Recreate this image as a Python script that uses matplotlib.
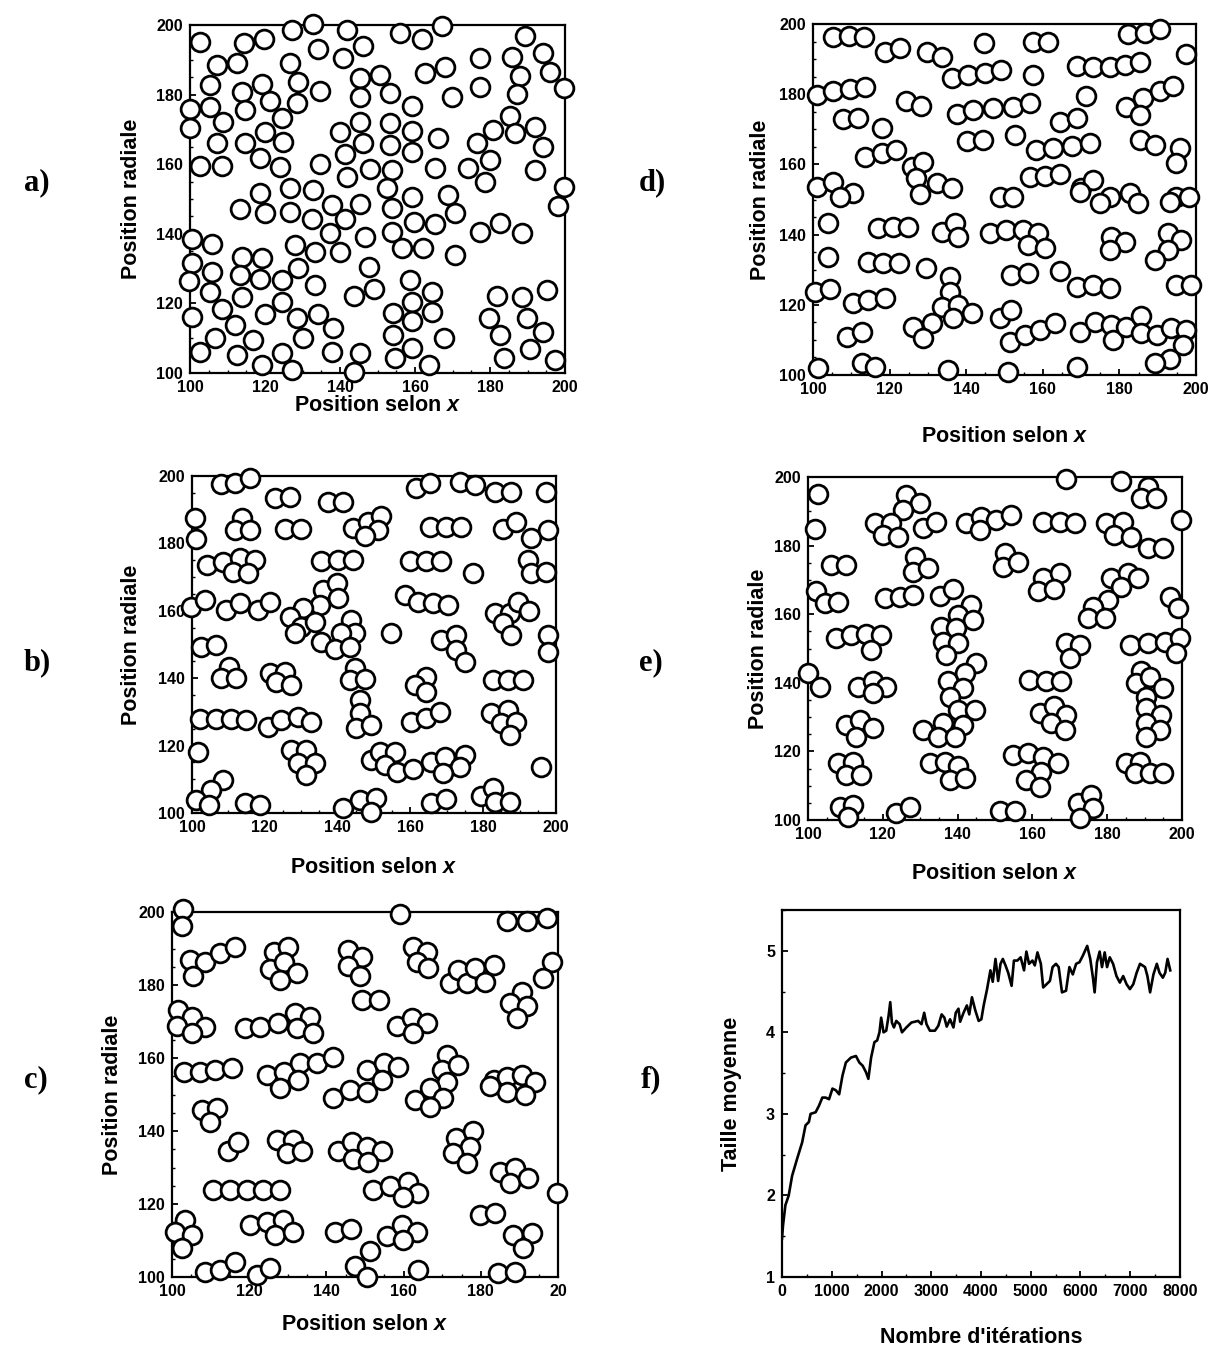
import matplotlib
matplotlib.use("Agg")
import matplotlib.pyplot as plt
from matplotlib.ticker import MultipleLocator
import numpy as np

plt.rcParams['font.family'] = ['Liberation Sans', 'DejaVu Sans']
plt.rcParams['mathtext.fontset'] = 'custom'
plt.rcParams['mathtext.it'] = 'Liberation Sans:bold:italic'
plt.rcParams['mathtext.rm'] = 'Liberation Sans:bold'

# ---------------- data ----------------
a_pts = [(102.7,195.0),(107.1,188.5),(112.4,189.2),(114.4,194.7),(119.6,196.0),(127.1,198.6),(132.9,200.2),
 (141.8,198.6),(134.2,193.1),(146.2,194.1),(140.9,190.4),(126.7,189.0),(156.0,197.6),(161.8,196.0),(167.1,199.8),
 (189.3,196.9),(194.2,192.0),(196.0,186.6),(185.8,190.9),(177.3,190.6),(168.0,188.0),(162.7,186.1),(188.0,185.4),
 (199.8,182.0),(187.1,180.1),(177.3,182.3),(169.8,179.4),(159.1,176.8),(150.7,185.6),(145.3,184.9),(153.3,180.4),
 (145.3,179.4),(134.7,181.0),(128.9,183.7),(119.1,183.0),(113.8,180.8),(105.3,182.8),(121.3,178.2),(128.4,177.5),
 (114.7,175.6),(105.3,176.5),(100.0,175.9),(100.0,170.3),(108.9,172.2),(124.4,173.2),(120.0,169.2),(107.1,166.0),
 (114.7,166.0),(124.9,166.5),(118.7,161.7),(124.0,159.3),(102.7,159.6),(108.4,159.6),(134.7,160.2),(140.0,169.3),
 (145.3,172.2),(146.2,166.2),(141.3,162.8),(141.8,156.4),(148.0,158.6),(153.3,171.7),(153.3,165.5),(159.1,169.5),
 (159.1,163.4),(153.8,158.3),(166.2,167.4),(165.3,159.0),(174.2,159.0),(176.4,166.0),(180.0,161.2),(180.9,169.8),
 (185.3,173.9),(186.7,168.9),(192.0,170.8),(194.2,165.0),(192.0,158.3),(178.7,155.0),(199.6,153.5),(152.4,153.1),
 (118.7,151.6),(126.7,153.1),(132.9,152.6),
 (159.1,150.5),(168.9,151.2),(113.3,147.0),(120.0,146.1),(126.7,146.4),(132.4,144.2),(137.8,148.3),(141.3,144.2),
 (145.3,148.6),(153.8,147.3),(159.6,143.5),(165.3,142.8),(170.7,145.9),(177.3,140.6),(182.7,143.0),(188.4,140.3),
 (198.2,148.0),(137.3,140.1),(146.7,139.0),(153.8,140.6),(156.4,135.8),(162.2,135.8),(170.7,133.9),(100.4,138.4),
 (105.8,137.1),(128.0,136.8),(133.3,134.9),(140.0,134.9),(113.8,133.4),(119.1,133.0),(100.4,131.7),(105.8,129.1),
 (128.9,130.1),(147.6,130.6),(99.6,126.3),(113.3,128.2),(118.7,126.9),(124.4,126.7),(133.3,125.3),(158.7,126.7),
 (105.3,123.4),(113.8,121.8),(124.4,120.5),(143.6,122.1),(149.1,124.1),(164.4,123.4),(159.1,120.5),(181.8,122.1),
 (188.4,121.9),(195.1,123.9),(108.4,118.3),(100.4,116.0),(120.0,117.0),(128.4,115.7),(134.2,117.0),(154.2,117.2),
 (164.4,117.6),(159.1,114.8),(179.6,115.7),(189.8,115.7),(112.0,113.8),(138.2,112.9),(194.2,111.9),(182.7,110.9),
 (106.7,110.0),(116.9,109.5),(130.2,110.0),(154.2,110.9),(167.6,110.0),(102.7,105.9),(112.4,105.2),(124.4,105.7),
 (137.8,105.9),(145.3,105.7),(159.1,107.1),(190.7,106.8),(183.8,104.2),(154.7,104.2),(197.3,103.6),(119.1,102.3),
 (127.1,100.9),(143.6,100.4),(163.6,102.3)]

d_pts = [(105.3,196.4),(109.5,196.7),(113.3,196.4),(118.8,191.9),(122.7,193.3),(129.7,192.1),(133.6,190.7),
 (144.6,194.5),(157.5,194.8),(161.4,194.8),(182.3,197.1),(186.7,197.3),(190.5,198.6),(197.5,191.4),(136.2,184.7),
 (140.5,185.5),(144.9,185.9),(149.2,186.9),(157.5,185.5),(168.8,188.1),(173.0,187.8),(177.5,187.8),(181.4,188.3),
 (185.3,189.3),(101.0,179.8),(105.3,180.9),(109.7,181.5),(113.6,182.1),(124.4,178.1),(128.1,176.7),(137.5,174.5),
 (141.8,175.5),(147.0,176.0),(152.1,176.4),(156.6,177.4),(171.4,179.6),(181.8,176.4),(186.2,179.0),(190.5,180.9),
 (194.0,182.4),(185.3,174.1),(107.9,172.9),(111.7,173.1),(117.9,170.3),(164.4,172.2),(168.8,173.1),(140.1,166.7),
 (144.4,167.0),(152.7,168.4),(158.3,164.1),(162.7,164.6),(167.5,165.1),(172.3,166.0),(185.3,167.0),(189.2,165.5),
 (195.7,164.6),(194.9,160.3),(113.6,162.2),(117.9,163.2),(121.8,164.1),(125.8,159.4),(128.7,160.8),(126.8,156.0),
 (132.3,154.6),(136.2,153.2),(156.6,156.5),(160.5,156.8),(164.4,157.2),(170.1,153.2),(173.0,155.6),(101.0,153.7),
 (105.3,155.1),(110.5,151.8),(127.9,151.5),(148.7,150.8),(152.1,150.8),(177.5,150.8),(182.7,151.8),(194.9,150.8),
 (198.3,150.8),
 (107.0,150.8),(169.7,152.2),(174.9,148.9),(184.9,148.9),(193.1,149.4),(104.0,143.2),(117.0,141.8),(120.9,142.1),
 (124.9,142.1),(133.6,140.8),(137.1,143.4),(137.9,139.2),(146.2,140.5),(150.5,141.3),(154.9,141.3),(158.8,140.4),
 (156.2,137.0),(160.5,136.1),(177.9,139.4),(181.4,138.0),(177.5,135.6),(192.7,140.4),(196.2,138.6),(192.7,135.6),
 (189.2,132.8),(104.0,133.7),(114.4,132.3),(118.3,132.0),(122.5,132.0),(129.6,130.4),(135.7,128.0),(151.8,128.5),
 (156.2,129.0),(164.4,129.7),(168.8,125.2),(173.1,125.6),(177.5,124.7),(194.9,125.6),(198.8,125.6),(100.5,123.7),
 (104.4,124.4),(110.5,120.4),(114.4,121.4),(118.8,121.8),(135.7,123.7),(133.6,119.5),(137.9,119.9),(141.4,117.6),
 (136.6,116.1),(131.0,114.7),(126.2,113.6),(128.8,110.4),(148.8,116.1),(151.8,118.5),(151.4,109.5),(155.3,111.4),
 (159.2,112.8),(163.1,114.7),(169.7,112.3),(173.6,115.2),(177.9,114.2),(178.3,110.0),(181.8,113.8),(185.7,116.8),
 (185.7,111.9),(189.7,111.4),(193.6,113.3),(197.5,112.8),(196.6,108.5),(193.1,104.7),(189.2,103.3),(108.8,110.9),
 (112.7,112.3),(101.4,101.9),(112.7,103.3),(116.2,102.4),(135.3,101.4),(150.9,100.9),(168.8,102.4)]

b_pts = [(108.1,197.6),(111.7,198.0),(115.8,199.3),(122.7,193.4),(126.8,193.9),(137.4,192.4),(141.5,192.4),
 (161.6,196.3),(165.3,198.0),(173.5,198.3),(177.7,197.3),(183.2,195.4),(187.7,195.4),(197.3,195.4),(100.7,187.4),
 (113.6,187.4),(111.7,184.0),(115.8,184.0),(125.5,184.2),(130.0,184.2),(144.2,184.5),(148.4,186.4),(152.0,188.1),
 (151.1,184.0),(147.4,182.2),(165.3,185.0),(169.9,185.0),(174.0,185.0),(185.4,184.2),(189.1,186.4),(193.2,181.5),
 (197.8,184.0),(101.1,181.2),(104.0,173.6),(108.5,174.6),(113.1,175.6),(117.2,175.1),(111.3,171.6),(115.4,171.1),
 (135.5,174.9),(140.1,175.1),(144.2,175.1),(159.8,174.9),(164.4,174.9),(168.5,174.9),(177.2,171.1),(192.3,175.1),
 (193.2,171.1),(197.3,171.6),(136.0,166.2),(139.7,168.2),(140.1,163.7),(135.2,161.7),(130.5,160.7),(126.8,158.3),
 (130.0,155.3),(133.7,156.8),(128.2,153.3),(99.8,161.2),(103.5,163.2),(109.4,160.2),(113.1,162.2),(118.1,160.2),
 (121.3,162.7),(158.4,164.7),(162.1,162.7),(166.2,162.2),(170.3,161.7),(183.2,159.2),(187.3,159.2),(189.6,162.7),
 (192.5,159.8),(185.4,156.3),(187.7,152.8),(197.8,152.8),(143.8,157.3),(144.8,153.3),(141.0,153.3),(154.8,153.3),
 (168.5,151.3),(172.6,152.8),(135.5,150.8),(102.6,149.4),(106.7,149.9),
 (139.2,148.8),(143.3,149.3),(172.6,148.3),(174.9,144.9),(197.8,147.9),(110.3,143.4),(108.1,140.0),(112.2,140.0),
 (121.3,141.4),(125.5,141.9),(123.2,139.0),(127.3,138.0),(144.7,142.9),(143.3,139.4),(147.4,139.9),(164.4,140.4),
 (161.2,138.0),(164.4,136.0),(182.7,139.4),(186.8,139.4),(190.9,139.4),(146.1,133.5),(102.1,127.9),(106.7,127.9),
 (110.8,127.9),(114.9,127.6),(120.9,125.6),(124.5,127.6),(129.1,128.6),(132.8,126.9),(146.1,129.6),(145.1,125.1),
 (149.3,126.1),(160.3,127.1),(164.4,128.1),(168.0,130.0),(182.2,129.6),(186.8,130.5),(184.9,126.6),(189.1,127.1),
 (187.3,123.1),(101.6,118.2),(127.3,118.7),(131.4,118.7),(129.1,114.7),(133.7,114.7),(131.4,111.3),(149.3,115.7),
 (151.6,118.2),(155.7,118.2),(153.0,114.2),(156.2,112.2),(160.7,113.2),(165.7,115.2),(169.4,116.7),(174.9,117.2),
 (173.5,113.7),(169.0,112.0),(196.0,113.7),(108.5,109.8),(105.3,106.8),(101.1,103.8),(104.7,102.4),(114.5,102.9),
 (118.6,102.4),(141.5,101.4),(146.1,103.8),(150.6,104.4),(149.3,100.4),(165.7,102.9),(169.9,104.2),(179.5,104.9),
 (182.7,107.3),(183.2,103.4),(187.3,103.4)]

e_pts = [(102.7,195.0),(169.1,199.3),(183.8,198.9),(190.9,197.2),(189.1,193.8),(193.1,193.8),(126.3,194.8),
 (129.9,192.5),(125.4,190.4),(117.8,186.5),(122.3,186.7),(120.1,183.1),(124.1,182.6),(130.7,185.0),(134.3,187.0),
 (101.8,184.7),(142.3,186.7),(146.3,188.4),(150.4,187.5),(154.4,188.9),(145.9,184.5),(162.8,187.0),(167.3,187.0),
 (171.3,186.5),(179.8,186.5),(184.2,187.0),(181.9,183.1),(186.4,182.6),(190.9,179.2),(194.9,179.2),(199.8,187.5),
 (106.2,174.3),(110.2,174.3),(128.5,176.6),(128.1,172.4),(132.1,173.4),(152.6,177.7),(152.1,173.9),(156.1,175.3),
 (162.8,170.5),(167.3,172.0),(161.5,166.9),(165.9,167.3),(181.1,170.5),(185.6,171.9),(188.2,170.5),(183.8,167.8),
 (180.2,164.1),(176.2,162.2),(174.8,158.8),(179.3,158.8),(196.7,164.9),(198.9,161.7),(102.2,166.9),(104.5,163.2),
 (108.0,163.7),(120.5,164.6),(124.5,164.9),(128.1,165.6),(135.2,165.3),(138.8,167.3),(143.7,162.7),(140.1,159.8),
 (144.1,158.3),(135.6,156.4),(139.7,155.9),(107.6,153.0),(111.6,153.9),(115.6,154.2),(119.6,153.9),(136.1,152.0),
 (140.1,151.5),(169.1,151.5),(172.6,151.0),(186.0,151.0),(190.9,151.5),(195.4,152.0),(199.4,153.0),
 (116.9,149.6),(137.0,148.1),(145.0,145.7),(170.0,147.2),(198.5,148.6),(100.0,142.8),(103.1,138.9),(113.4,138.9),
 (117.4,140.4),(120.9,138.9),(117.4,137.0),(137.4,140.4),(141.9,142.8),(141.4,138.4),(137.9,135.8),(159.2,140.8),
 (163.7,140.4),(167.7,140.4),(189.1,143.3),(187.7,139.9),(191.4,141.8),(194.9,138.4),(190.5,136.0),(190.5,132.6),
 (194.5,130.6),(190.5,128.2),(194.1,126.3),(190.5,124.3),(140.1,132.1),(144.6,132.1),(141.4,127.7),(136.1,128.2),
 (130.8,126.3),(134.8,124.3),(139.2,124.3),(161.9,131.1),(165.9,133.1),(169.1,130.6),(165.0,128.2),(168.6,126.3),
 (110.2,127.7),(113.8,129.2),(117.4,126.7),(112.9,124.3),(108.0,116.5),(112.0,117.0),(110.2,113.1),(114.3,113.1),
 (132.5,116.5),(136.5,117.0),(140.1,115.6),(137.9,111.7),(142.0,112.2),(154.8,119.0),(158.8,119.5),(162.8,118.5),
 (166.8,116.7),(162.4,114.1),(158.4,111.7),(161.9,109.7),(185.1,116.7),(188.7,117.0),(187.3,113.6),(191.4,113.6),
 (194.9,113.6),(108.5,103.9),(112.0,104.4),(110.7,101.0),(123.6,102.0),(127.2,103.9),(151.3,102.5),(155.3,102.5),
 (172.2,104.9),(175.8,107.3),(176.2,103.4),(172.6,100.5)]

c_pts = [(102.9,200.7),(102.5,196.2),(159.1,199.5),(186.7,197.6),(191.9,197.6),(197.1,198.3),(104.7,186.8),
 (108.5,186.4),(105.5,182.5),(112.4,188.9),(116.3,190.3),(126.3,189.1),(130.1,190.5),(125.4,184.3),(128.9,186.4),
 (132.3,183.2),(128.0,181.4),(145.7,189.6),(149.1,187.6),(145.7,185.2),(148.7,182.5),(162.5,190.5),(166.0,189.1),
 (163.4,186.4),(166.4,184.6),(172.0,180.5),(174.2,184.1),(176.3,180.6),(178.5,184.6),(183.3,185.5),(181.1,180.9),
 (198.4,186.4),(196.2,181.8),(149.1,175.9),(153.5,175.9),(190.6,178.2),(187.6,175.0),(191.9,174.2),(189.3,170.9),
 (101.6,173.2),(105.1,171.3),(101.2,168.8),(108.5,168.4),(105.1,166.8),(118.9,168.1),(122.8,168.6),(127.5,169.5),
 (131.9,172.2),(135.8,171.3),(132.3,168.1),(136.6,166.8),(158.2,168.8),(162.1,170.9),(166.0,169.5),(162.5,166.8),
 (103.0,156.3),(107.3,156.3),(111.1,156.7),(115.5,157.2),(124.5,155.3),(128.9,156.3),(133.2,158.5),(137.5,158.5),
 (141.8,160.4),(132.7,154.0),(150.4,156.7),(154.8,158.5),(158.6,157.6),(154.3,154.0),(171.2,160.8),(169.9,156.7),
 (174.2,158.1),(171.2,153.5),(183.3,153.9),(186.7,154.9),(190.6,155.3),(194.1,153.5),
 (128.0,151.7),(141.8,149.0),(146.1,151.3),(150.4,150.8),(163.0,148.5),(166.8,151.7),(170.3,149.0),(166.8,146.7),
 (186.7,150.8),(191.4,149.9),(182.4,152.2),(107.7,145.8),(111.6,146.2),(109.8,142.6),(114.6,134.4),(117.2,137.1),
 (127.1,137.6),(131.4,137.6),(129.7,133.9),(133.6,134.4),(143.1,134.4),(146.6,137.1),(150.4,135.7),(154.3,134.4),
 (147.0,132.3),(150.9,131.4),(173.7,138.0),(178.1,140.1),(177.2,135.7),(172.9,133.9),(176.3,131.2),(185.0,128.9),
 (188.9,129.8),(187.6,125.7),(192.3,127.1),(110.7,123.9),(115.0,123.9),(119.4,123.9),(123.7,123.9),(128.0,123.9),
 (152.2,123.9),(156.5,125.0),(161.2,126.1),(163.8,123.0),(159.9,122.0),(199.7,122.9),(103.4,115.6),(100.8,112.4),
 (105.1,111.5),(102.5,107.9),(120.2,114.3),(124.5,115.2),(128.8,115.6),(126.7,111.5),(131.4,112.2),(142.2,112.4),
 (146.5,113.1),(155.6,111.1),(159.5,114.3),(163.4,112.4),(159.9,110.2),(151.3,107.0),(179.8,117.0),(183.7,117.5),
 (188.4,111.5),(193.2,112.0),(191.0,107.9),(108.6,101.5),(112.4,101.9),(116.3,104.0),(121.9,100.6),(125.4,102.4),
 (147.4,102.9),(150.4,100.1),(163.8,101.8),(184.5,101.2),(188.9,101.5)]

f_iter = [0,20,68,135,203,304,405,473,540,574,676,743,811,878,946,1014,1081,1149,1216,1284,1385,1486,1554,1622,
 1689,1736,1791,1858,1912,1959,1993,2041,2095,2142,2176,2209,2250,2297,2365,2412,2500,2601,2736,2804,2858,2905,
 2973,3074,3142,3209,3264,3311,3378,3446,3493,3547,3581,3649,3716,3764,3818,3885,3953,4007,4054,4122,4189,4236,
 4291,4345,4392,4439,4493,4547,4615,4662,4730,4797,4865,4912,4966,5034,5081,5135,5203,5250,5318,5385,5439,5507,
 5561,5628,5709,5777,5845,5912,5980,6047,6135,6196,6250,6284,6331,6385,6432,6486,6534,6588,6655,6723,6791,6858,
 6926,6993,7061,7128,7196,7297,7345,7399,7466,7534,7588,7655,7703,7750,7804]
f_size = [1.47,1.63,1.88,2.00,2.24,2.45,2.65,2.86,2.90,3.00,3.02,3.10,3.20,3.20,3.18,3.31,3.29,3.24,3.47,3.63,3.69,
 3.71,3.63,3.59,3.51,3.43,3.69,3.88,3.90,4.00,4.18,4.00,4.02,4.20,4.37,4.12,4.06,4.14,4.10,4.00,4.06,4.12,4.14,
 4.10,4.24,4.10,4.02,4.02,4.08,4.22,4.18,4.07,4.16,4.06,4.24,4.29,4.13,4.24,4.33,4.22,4.43,4.27,4.14,4.16,4.33,
 4.53,4.76,4.62,4.90,4.63,4.84,4.90,4.82,4.73,4.57,4.88,4.88,4.92,4.76,4.99,4.84,4.88,4.82,4.98,4.84,4.55,4.59,
 4.63,4.80,4.84,4.80,4.49,4.51,4.80,4.71,4.84,4.86,4.94,5.06,4.90,4.67,4.49,4.86,4.99,4.80,4.98,4.80,4.92,4.84,
 4.69,4.61,4.69,4.59,4.53,4.59,4.73,4.84,4.80,4.69,4.49,4.71,4.84,4.73,4.67,4.73,4.90,4.76]

pos_ticks = [100, 120, 140, 160, 180, 200]
c_xticklabels = ['100', '120', '140', '160', '180', '20']

# ---------------- figure ----------------
fig = plt.figure(figsize=(12.12, 13.49), dpi=100)

W, H = 1212.0, 1349.0
def rect(x0, y0, x1, y1):
    return [x0 / W, 1 - y1 / H, (x1 - x0) / W, (y1 - y0) / H]

tick_font = dict(fontsize=11.5, fontweight='bold')
label_font = dict(fontsize=15.5, fontweight='bold')

def circle_panel(r, pts, xpad, ypad, xticklabels=None):
    ax = fig.add_axes(r)
    xs = [p[0] for p in pts]
    ys = [p[1] for p in pts]
    ax.plot(xs, ys, linestyle='none', marker='o', markersize=13.5,
            markerfacecolor='white', markeredgecolor='black', markeredgewidth=2.0,
            clip_on=False, zorder=5)
    ax.set_xlim(100, 200)
    ax.set_ylim(100, 200)
    ax.set_xticks(pos_ticks)
    ax.set_yticks(pos_ticks)
    ax.set_xticklabels(xticklabels if xticklabels else [str(t) for t in pos_ticks], **tick_font)
    ax.set_yticklabels([str(t) for t in pos_ticks], **tick_font)
    ax.xaxis.set_minor_locator(MultipleLocator(5))
    ax.yaxis.set_minor_locator(MultipleLocator(5))
    ax.tick_params(which='major', direction='in', length=4, width=1.3, pad=5)
    ax.tick_params(which='minor', direction='in', length=2, width=1)
    for s in ax.spines.values():
        s.set_linewidth(1.6)
    ax.set_xlabel('Position selon $x$', labelpad=xpad, **label_font)
    ax.set_ylabel('Position radiale', labelpad=ypad, **label_font)
    return ax

ax_a = circle_panel(rect(190, 25, 565, 373), a_pts, 0, 10)
ax_d = circle_panel(rect(813, 24, 1196, 375), d_pts, 21, 6)
ax_b = circle_panel(rect(192, 476, 556, 813), b_pts, 16, 12)
ax_e = circle_panel(rect(808, 477, 1182, 820), e_pts, 15, 4)
ax_c = circle_panel(rect(172, 912, 558, 1277), c_pts, 11, 11, c_xticklabels)

ax_f = fig.add_axes(rect(782, 910, 1180, 1277))
ax_f.plot(f_iter, f_size, color='black', linewidth=1.9)
ax_f.set_xlim(0, 8000)
ax_f.set_ylim(1, 5.5)
ax_f.set_xticks(range(0, 8001, 1000))
ax_f.set_xticklabels([str(v) for v in range(0, 8001, 1000)], **tick_font)
ax_f.set_yticks([1, 2, 3, 4, 5])
ax_f.set_yticklabels(['1', '2', '3', '4', '5'], **tick_font)
ax_f.yaxis.set_minor_locator(MultipleLocator(0.5))
ax_f.xaxis.set_minor_locator(MultipleLocator(500))
ax_f.tick_params(which='major', direction='in', length=4, width=1.3, pad=5)
ax_f.tick_params(which='minor', direction='in', length=2, width=1)
for s in ax_f.spines.values():
    s.set_linewidth(1.6)
ax_f.set_xlabel("Nombre d'itérations", labelpad=20, **label_font)
ax_f.set_ylabel('Taille moyenne', labelpad=17, **label_font)

letter_font = dict(fontsize=22, fontweight='bold', family='Liberation Serif',
                   ha='left', va='center')
for txt, (px, py) in [('a)', (24, 183)), ('d)', (639, 183)), ('b)', (24, 663)),
                      ('e)', (639, 663)), ('c)', (24, 1080)), ('f)', (641, 1080))]:
    fig.text(px / W, 1 - py / H, txt, **letter_font)

fig.savefig('out.png', dpi=100, facecolor='white')
